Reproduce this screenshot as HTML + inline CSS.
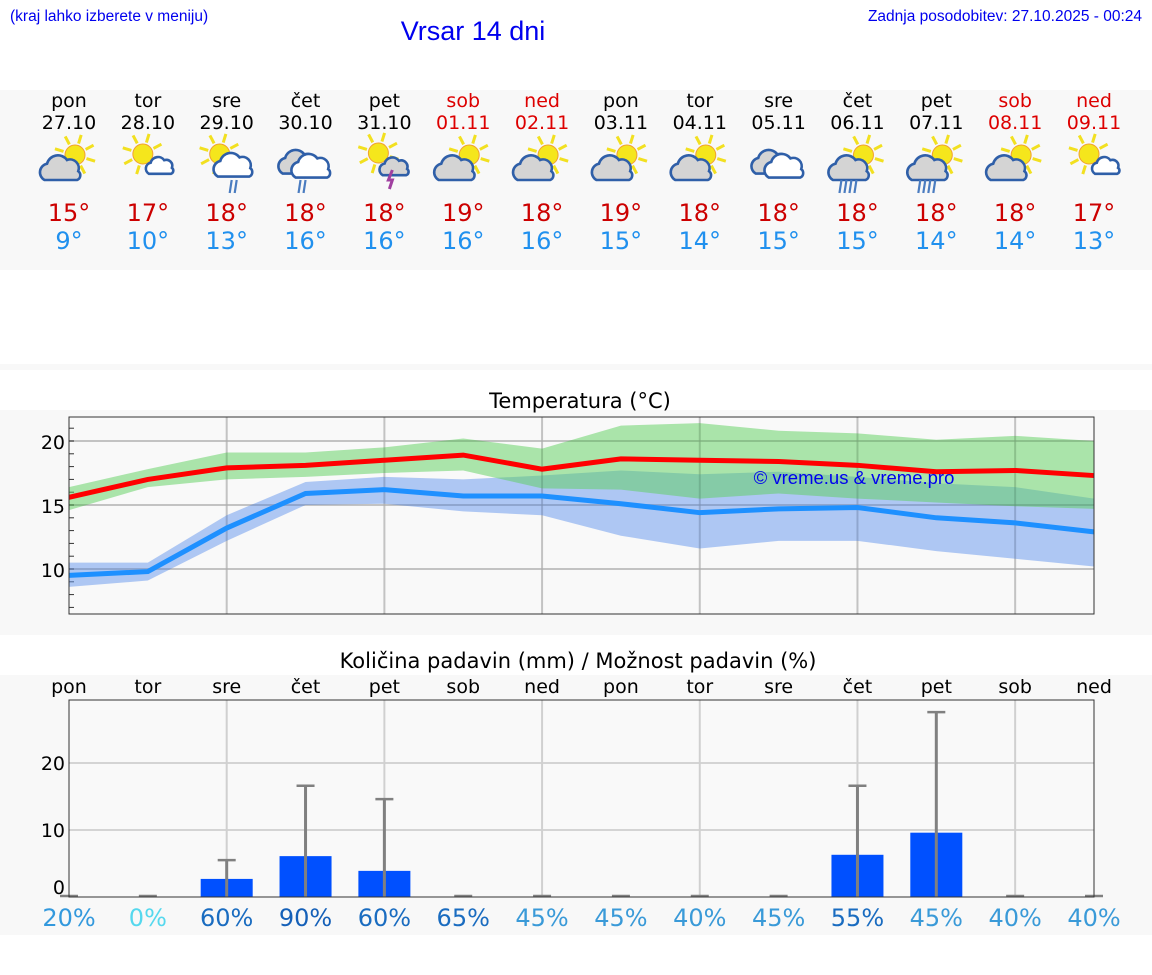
<!DOCTYPE html>
<html><head><meta charset="utf-8">
<style>
html,body{margin:0;padding:0;background:#fff;width:1152px;height:975px;overflow:hidden;font-family:"DejaVu Sans","Liberation Sans",sans-serif;}
svg{display:block}
</style></head>
<body>
<svg id="page" width="1152" height="975" viewBox="0 0 1152 975" xmlns="http://www.w3.org/2000/svg">
  <rect x="0" y="90" width="1152" height="180" fill="#f8f8f8"/>
  <rect x="0" y="364" width="1152" height="6" fill="#f8f8f8"/>
  <rect x="0" y="410" width="1152" height="225" fill="#f8f8f8"/>
  <rect x="0" y="675" width="1152" height="260" fill="#f8f8f8"/>
  <text x="10" y="21" font-family="Liberation Sans, sans-serif" font-size="15.5" fill="#0000ee">(kraj lahko izberete v meniju)</text>
  <text x="473" y="40" text-anchor="middle" font-family="Liberation Sans, sans-serif" font-size="27" fill="#0000ee">Vrsar 14 dni</text>
  <text x="1142" y="21" text-anchor="end" font-family="Liberation Sans, sans-serif" font-size="15.5" fill="#0000ee">Zadnja posodobitev: 27.10.2025 - 00:24</text>
  <g id="daily"></g>
  <text x="580" y="408" text-anchor="middle" font-size="21" fill="#000">Temperatura (°C)</text>
  <g id="temp"></g>
  <text x="578" y="668" text-anchor="middle" font-size="21" fill="#000">Količina padavin (mm) / Možnost padavin (%)</text>
  <g id="precip"></g>
</svg>
<script>
const NS="http://www.w3.org/2000/svg";
const days=["pon","tor","sre","čet","pet","sob","ned","pon","tor","sre","čet","pet","sob","ned"];
const dates=["27.10","28.10","29.10","30.10","31.10","01.11","02.11","03.11","04.11","05.11","06.11","07.11","08.11","09.11"];
const weekend=[0,0,0,0,0,1,1,0,0,0,0,0,1,1];
const icons=["partly","suncloud","sunrain","cloudrain","storm","partly","partly","partly","partly","cloudy","partlyrain","partlyrain","partly","suncloud"];
const tmaxDay=[15,17,18,18,18,19,18,19,18,18,18,18,18,17];
const tminDay=[9,10,13,16,16,16,16,15,14,15,15,14,14,13];
const tMax=[15.6,17.0,17.9,18.1,18.5,18.9,17.8,18.6,18.5,18.4,18.1,17.6,17.7,17.3];
const tMaxHi=[16.4,17.8,19.1,19.1,19.5,20.2,19.4,21.2,21.4,20.8,20.6,20.1,20.4,20.0];
const tMaxLo=[14.6,16.4,17.0,17.2,17.5,17.7,16.3,16.2,15.5,15.9,15.5,15.2,14.9,14.7];
const tMin=[9.5,9.8,13.2,15.9,16.2,15.7,15.7,15.1,14.4,14.7,14.8,14.0,13.6,12.9];
const tMinHi=[10.5,10.5,14.2,16.8,17.2,17.0,17.3,17.7,17.4,17.6,17.2,16.7,16.4,15.5];
const tMinLo=[8.6,9.1,12.2,15.0,15.1,14.5,14.2,12.6,11.6,12.2,12.2,11.4,10.8,10.2];
const tempTicks=[10,15,20];
const rain=[0,0,2.7,6.1,3.9,0,0,0,0,0,6.3,9.6,0,0];
const rainMax=[0,0,5.5,16.6,14.6,0,0,0,0,0,16.6,27.6,0,0];
const chance=[20,0,60,90,60,65,45,45,40,45,55,45,40,40];
const rainTicks=[0,10,20];

function el(tag,attrs,parent,text){const e=document.createElementNS(NS,tag);for(const k in attrs)e.setAttribute(k,attrs[k]);if(text!==undefined)e.textContent=text;parent.appendChild(e);return e;}
const X0=69,X1=1094;
const xs=i=>X0+i*(X1-X0)/13;

const dg=document.getElementById('daily');
function sun(g,cx,cy,r){for(let a=0;a<8;a++){const t=a*Math.PI/4+0.3;el('line',{x1:cx+Math.cos(t)*(r+2),y1:cy+Math.sin(t)*(r+2),x2:cx+Math.cos(t)*(r+11),y2:cy+Math.sin(t)*(r+11),stroke:'#f2e020','stroke-width':3},g);}el('circle',{cx,cy,r,fill:'#f5e61c',stroke:'#f0a030','stroke-width':1},g);}
function cloud(g,cx,cy,s,fill){const p=`M${cx-14*s},${cy+8*s} a${7*s},${7*s} 0 0 1 ${2*s},${-13*s} a${9*s},${9*s} 0 0 1 ${16*s},${-3*s} a${7*s},${7*s} 0 0 1 ${9*s},${9*s} a${4*s},${4*s} 0 0 1 ${-1*s},${7*s} z`;el('path',{d:p,fill,stroke:'#2f5fa8','stroke-width':2.6},g);}
function rainL(g,cx,cy,n){for(let k=0;k<n;k++)el('line',{x1:cx+k*5-n*2.5+2,y1:cy,x2:cx+k*5-n*2.5,y2:cy+13,stroke:'#4a7cc0','stroke-width':2.2},g);}
for(let i=0;i<14;i++){
  const x=xs(i);const col=weekend[i]?'#dd0000':'#000';
  const g=el('g',{},dg);
  
  
  el('text',{x,y:107,'text-anchor':'middle','font-size':19,fill:col},g,days[i]);
  el('text',{x,y:129,'text-anchor':'middle','font-size':19,fill:col},g,dates[i]);
  const ic=el('g',{},g);
  
  
  const t=icons[i];
  if(t==='partly'||t==='partlyrain'){sun(ic,x+6,155,10);cloud(ic,x-7,170,1.25,'#d4d4d4');if(t==='partlyrain')rainL(ic,x-8,180,4);}
  else if(t==='suncloud'){sun(ic,x-5,154,10);cloud(ic,x+13,167,0.85,'#fff');}
  else if(t==='sunrain'){sun(ic,x-7,154,10);cloud(ic,x+8,167,1.2,'#fff');rainL(ic,x+8,180,2);}
  else if(t==='cloudrain'){cloud(ic,x-6,164,1.2,'#d4d4d4');cloud(ic,x+7,168,1.2,'#fff');rainL(ic,x-2,180,2);}
  else if(t==='storm'){sun(ic,x-6,153,10);cloud(ic,x+11,168,0.9,'#d4d4d4');el('path',{d:`M${x+8},170 l-4,10 h4 l-3,9`,stroke:'#a040a0','stroke-width':3,fill:'none'},ic);}
  else if(t==='cloudy'){cloud(ic,x-6,164,1.2,'#d4d4d4');cloud(ic,x+7,168,1.2,'#fff');}
  el('text',{x,y:221,'text-anchor':'middle','font-size':24,fill:'#cc0000'},g,tmaxDay[i]+'°');
  el('text',{x,y:249,'text-anchor':'middle','font-size':24,fill:'#2090ee'},g,tminDay[i]+'°');
}

const tg=document.getElementById('temp');
const TY0=417,TY1=614;
const ty=v=>441+(20-v)*12.8;
el('rect',{x:X0,y:TY0,width:X1-X0,height:TY1-TY0,fill:'#f9f9f9'},tg);
for(const v of tempTicks){el('line',{x1:X0,x2:X1,y1:ty(v),y2:ty(v),stroke:'#d4d4d4','stroke-width':2},tg);
  const tl=el('text',{x:X0-4,y:ty(v)+8,'text-anchor':'end','font-size':19,fill:'#000'},tg,String(v));
  }
for(let v=7;v<=21;v++)el('line',{x1:X0,x2:X0+5,y1:ty(v),y2:ty(v),stroke:'#333','stroke-width':1},tg);
for(let i=2;i<13;i+=2)el('line',{x1:xs(i),x2:xs(i),y1:TY0,y2:TY1,stroke:'#d4d4d4','stroke-width':2},tg);
function band(hi,lo,fill,op,name){let d='M'+hi.map((v,i)=>xs(i)+','+ty(v)).join(' L');for(let i=lo.length-1;i>=0;i--)d+=' L'+xs(i)+','+ty(lo[i]);const p=el('path',{d:d+'Z',fill,'fill-opacity':op},tg);}
function line(vals,stroke,name){const p=el('polyline',{points:vals.map((v,i)=>xs(i)+','+ty(v)).join(' '),fill:'none',stroke,'stroke-width':5},tg);}
band(tMinHi,tMinLo,'#6495ed',0.5,'min-temp-range');
band(tMaxHi,tMaxLo,'#5ccf5c',0.5,'max-temp-range');
for(const v of tempTicks)el('line',{x1:X0,x2:X1,y1:ty(v),y2:ty(v),stroke:'#000','stroke-opacity':0.08,'stroke-width':2},tg);
for(let i=2;i<13;i+=2)el('line',{x1:xs(i),x2:xs(i),y1:TY0,y2:TY1,stroke:'#000','stroke-opacity':0.08,'stroke-width':2},tg);
line(tMin,'#1e90ff','min-temp-line');
line(tMax,'#ff0000','max-temp-line');
const wm=el('text',{x:854,y:484,'text-anchor':'middle','font-family':'Liberation Sans, sans-serif','font-size':18.5,fill:'#0000ee'},tg,'© vreme.us & vreme.pro');

el('rect',{x:X0,y:TY0,width:X1-X0,height:TY1-TY0,fill:'none',stroke:'#333','stroke-width':1},tg);

const pg=document.getElementById('precip');
const PY0=700,PY1=897;
const py=v=>PY1-v*6.7;
el('rect',{x:X0,y:PY0,width:X1-X0,height:PY1-PY0,fill:'#f9f9f9'},pg);
for(let i=0;i<14;i++){const t=el('text',{x:xs(i),y:693,'text-anchor':'middle','font-size':19,fill:'#000'},pg,days[i]);}
for(const v of rainTicks){if(v>0)el('line',{x1:X0,x2:X1,y1:py(v),y2:py(v),stroke:'#d4d4d4','stroke-width':2},pg);
  const tl=el('text',{x:X0-4,y:(v===0?py(v)-3:py(v)+7),'text-anchor':'end','font-size':19,fill:'#000'},pg,String(v));
  }
for(let i=2;i<13;i+=2)el('line',{x1:xs(i),x2:xs(i),y1:PY0,y2:PY1,stroke:'#d0d0d0','stroke-width':2},pg);
const chanceCol=v=>v>=90?'#1560b8':v>=55?'#1a6cc0':v>=40?'#3a9ad8':v>=20?'#3399dd':'#55d8ee';
for(let i=0;i<14;i++){
  const x=xs(i);
  if(rain[i]>0){const b=el('rect',{x:x-26,y:py(rain[i]),width:52,height:PY1-py(rain[i]),fill:'#0050ff'},pg);}
  const eb=el('g',{},pg);
  
  
  if(rainMax[i]>0)el('line',{x1:x,x2:x,y1:py(rainMax[i]),y2:PY1,stroke:'#808080','stroke-width':3},eb);
  el('line',{x1:x-9,x2:x+9,y1:py(rainMax[i])-(rainMax[i]>0?0:1),y2:py(rainMax[i])-(rainMax[i]>0?0:1),stroke:'#808080','stroke-width':2.5},eb);
  const c=el('text',{x,y:926,'text-anchor':'middle','font-size':24,fill:chanceCol(chance[i])},pg,chance[i]+'%');
  
}
el('rect',{x:X0,y:PY0,width:X1-X0,height:PY1-PY0,fill:'none',stroke:'#333','stroke-width':1},pg);
</script>
</body></html>
